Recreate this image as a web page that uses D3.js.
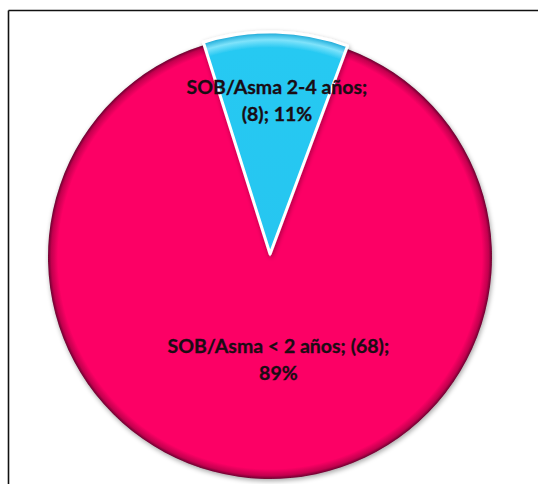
<!DOCTYPE html>
<html><head><meta charset="utf-8">
<script src="https://cdn.jsdelivr.net/npm/d3@7/dist/d3.min.js"></script>
<style>html,body{margin:0;padding:0;background:#fff;}svg{display:block;}</style>
</head><body>
<svg id="c" width="538" height="484"></svg>
<script>
const categories = ["SOB/Asma < 2 años", "SOB/Asma 2-4 años"];
const counts = [68, 8];
const percents = ["89%", "11%"];
const labelLines = [["SOB/Asma < 2 años; (68);", "89%"], ["SOB/Asma 2-4 años;", "(8); 11%"]];

const W = 538, H = 484;
const cx = 270, cy = 257, R = 222;
const svg = d3.select("#c");

// frame
svg.append("line").attr("x1", 8.5).attr("y1", 10.5).attr("x2", 538).attr("y2", 10.5).attr("stroke", "#111").attr("stroke-width", 1.6);
svg.append("line").attr("x1", 8.5).attr("y1", 10.5).attr("x2", 8.5).attr("y2", 484).attr("stroke", "#111").attr("stroke-width", 1.6);

const defs = svg.append("defs");
function radial(id, stops) {
  const g = defs.append("radialGradient").attr("id", id)
    .attr("gradientUnits", "userSpaceOnUse").attr("cx", 0).attr("cy", 0).attr("r", R);
  stops.forEach(s => g.append("stop").attr("offset", s[0]).attr("stop-color", s[1]));
}
radial("gPink", [[0, "#fc0065"], [0.955, "#fc0065"], [0.985, "#c2004e"], [1, "#6a0830"]]);
radial("gBlue", [[0, "#25c6f0"], [0.93, "#28c9f2"], [0.965, "#7fe3fb"], [0.99, "#2fb6e0"], [1, "#1690bb"]]);
const f = defs.append("filter").attr("id", "sh").attr("x", "-10%").attr("y", "-10%").attr("width", "120%").attr("height", "120%");
f.append("feGaussianBlur").attr("in", "SourceAlpha").attr("stdDeviation", 2.5).attr("result", "b");
f.append("feOffset").attr("in", "b").attr("dx", 1).attr("dy", 2).attr("result", "o");
f.append("feComponentTransfer").attr("in", "o").attr("result", "o2").append("feFuncA").attr("type", "linear").attr("slope", 0.35);
const m = f.append("feMerge"); m.append("feMergeNode").attr("in", "o2"); m.append("feMergeNode").attr("in", "SourceGraphic");

const deg = Math.PI / 180;
const pie = d3.pie().sort(null).value(d => d).startAngle(20.4 * deg).endAngle(20.4 * deg + 2 * Math.PI);
const arcs = pie(counts);
const arc = d3.arc().innerRadius(0).outerRadius(R);
const fills = ["url(#gPink)", "url(#gBlue)"];
const explode = [0, 3];
const labelR = [0.465 * R, 0.70 * R];
const labelDx = [11, 3];

const g = svg.append("g").attr("transform", `translate(${cx},${cy})`);
arcs.forEach((a, i) => {
  const mid = (a.startAngle + a.endAngle) / 2;
  const ox = Math.sin(mid) * explode[i], oy = -Math.cos(mid) * explode[i];
  const sg = g.append("g").attr("transform", `translate(${ox},${oy})`);
  sg.append("path").attr("d", arc(a)).attr("fill", fills[i])
    .attr("stroke", i === 1 ? "#ffffff" : "none").attr("stroke-width", 3)
    .attr("stroke-linejoin", "round").attr("filter", "url(#sh)");
});

arcs.forEach((a, i) => {
  const mid = (a.startAngle + a.endAngle) / 2;
  const lx = Math.sin(mid) * labelR[i] + labelDx[i];
  const ly = -Math.cos(mid) * labelR[i];
  const t = g.append("text").attr("x", lx).attr("y", ly)
    .attr("text-anchor", "middle")
    .attr("font-family", "Lato, 'Open Sans', sans-serif")
    .attr("font-weight", "bold").attr("font-size", 19.5).attr("fill", "#1a0c14")
    .attr("stroke", "#1a0c14").attr("stroke-width", 0.3);
  const lines = labelLines[i];
  lines.forEach((ln, k) => {
    t.append("tspan").attr("x", lx).attr("dy", k === 0 ? (-(lines.length - 1) * 13.5 + 6) : 27).text(ln);
  });
});
</script>
</body></html>
